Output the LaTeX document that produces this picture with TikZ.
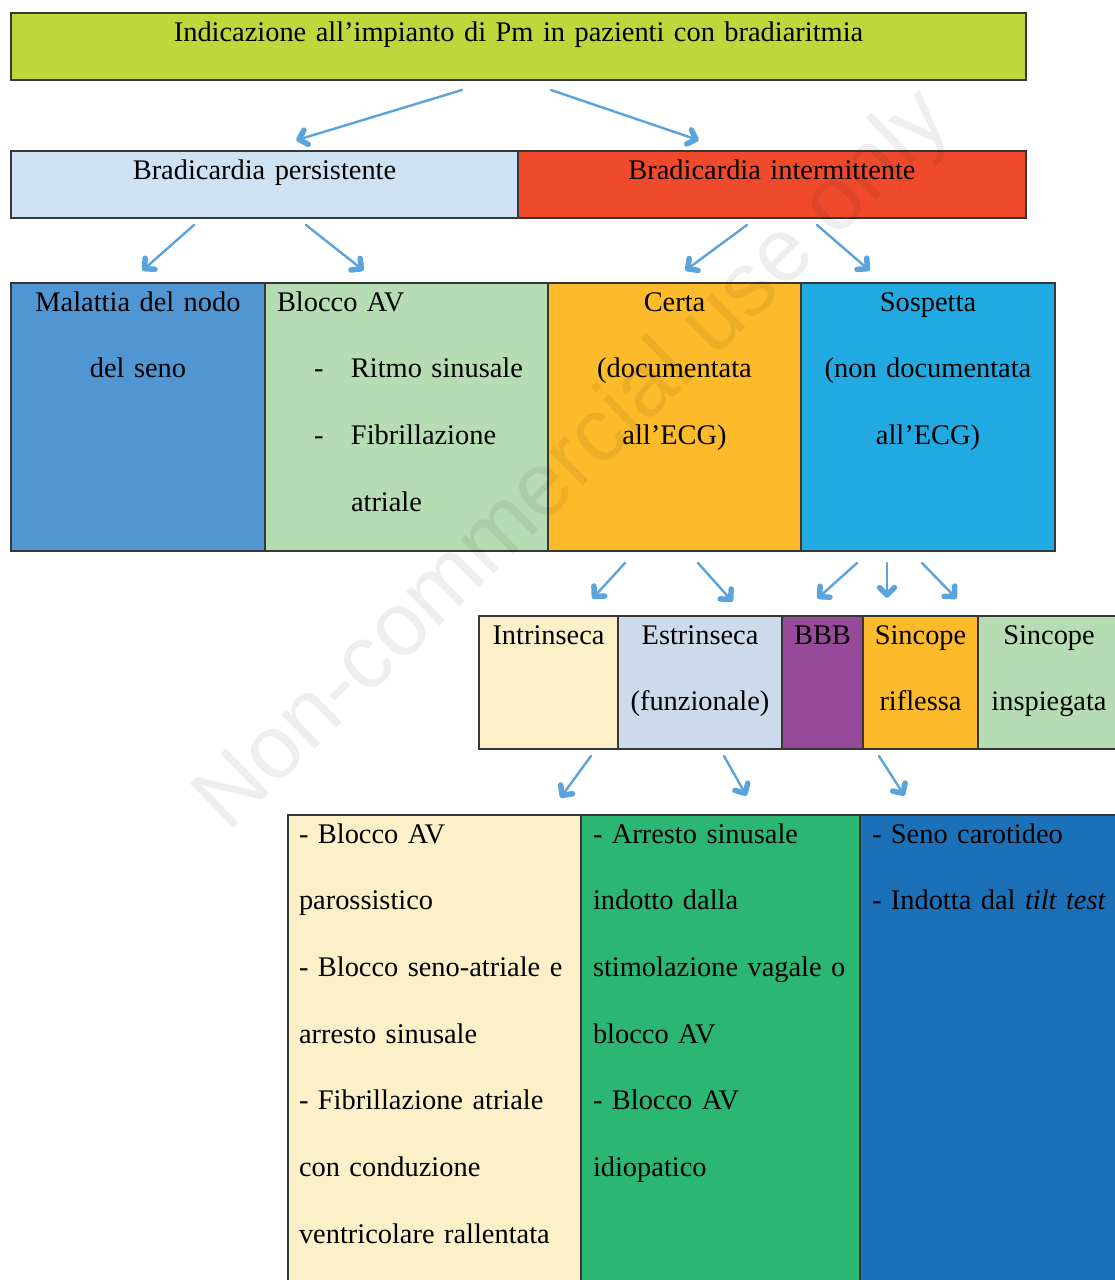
\documentclass[tikz,border=0pt]{standalone}
\usepackage{fontspec}
\setmainfont{Liberation Serif}
\newfontfamily\wmfont{Liberation Sans}
\usetikzlibrary{calc}
\definecolor{clime}{RGB}{190,215,58}
\definecolor{clightblue}{RGB}{207,226,243}
\definecolor{cred}{RGB}{239,74,43}
\definecolor{cblue}{RGB}{80,150,210}
\definecolor{cpalegreen}{RGB}{182,220,180}
\definecolor{corange}{RGB}{253,186,42}
\definecolor{ccyan}{RGB}{33,169,225}
\definecolor{ccream}{RGB}{252,240,200}
\definecolor{cpaleblue}{RGB}{204,218,236}
\definecolor{cpurple}{RGB}{152,74,154}
\definecolor{cgreen}{RGB}{43,182,115}
\definecolor{cdarkblue}{RGB}{28,112,184}
\definecolor{carrow}{RGB}{91,163,220}
\definecolor{cline}{RGB}{55,55,55}
\begin{document}
\begin{tikzpicture}[x=1pt,y=-1pt,
  box/.style={draw=cline, line width=1.2pt, inner sep=0pt, outer sep=0pt, anchor=north west},
  txt/.style={inner sep=0pt, outer sep=0pt, font=\fontsize{28.4}{66.7}\selectfont, text=black},
  ctxt/.style={txt, anchor=base, align=center},
  ltxt/.style={txt, anchor=base west, align=left},
  conn/.style={draw=carrow, line width=2.4pt, line cap=round},
  barb/.style={draw=carrow, line width=5.5pt, line cap=round, line join=round},
  wm/.style={font=\wmfont\fontsize{90}{90}\selectfont, text=black, text opacity=0.065, inner sep=0pt}
]
\useasboundingbox (0,0) rectangle (1115,1280);
\clip (0,0) rectangle (1115,1280);
\fill[white] (0,0) rectangle (1115,1280);

% ---- Row 1
\node[box, fill=clime, minimum width=1015, minimum height=67] (top) at (11,13) {};
\node[ctxt, text width=1000] (topt) at (518.5,41) {Indicazione all’impianto di Pm in pazienti con bradiaritmia};

% ---- Row 2
\node[box, fill=clightblue, minimum width=507, minimum height=67] (pers) at (11,151) {};
\node[box, fill=cred, minimum width=508, minimum height=67] (inter) at (518,151) {};
\node[ctxt, text width=490] (perst) at (264.5,179) {Bradicardia persistente};
\node[ctxt, text width=490] (intert) at (772,179) {Bradicardia intermittente};

% ---- Row 3
\node[box, fill=cblue, minimum width=254, minimum height=268] (mal) at (11,283) {};
\node[box, fill=cpalegreen, minimum width=283, minimum height=268] (bav) at (265,283) {};
\node[box, fill=corange, minimum width=253, minimum height=268] (certa) at (548,283) {};
\node[box, fill=ccyan, minimum width=254, minimum height=268] (sosp) at (801,283) {};
\node[ctxt, text width=250] (malt) at (138,311) {Malattia del nodo\\del seno};
\node[ltxt, text width=270] (bavt) at (277,311) {Blocco AV\\\hspace*{37pt}\makebox[37pt][l]{-}Ritmo sinusale\\\hspace*{37pt}\makebox[37pt][l]{-}Fibrillazione\\\hspace*{74pt}atriale};
\node[ctxt, text width=250] (certat) at (674.5,311) {Certa\\(documentata\\all’ECG)};
\node[ctxt, text width=250] (sospt) at (928,311) {Sospetta\\(non documentata\\all’ECG)};

% ---- Row 4
\node[box, fill=ccream, minimum width=139, minimum height=133] (intr) at (479,616) {};
\node[box, fill=cpaleblue, minimum width=164, minimum height=133] (estr) at (618,616) {};
\node[box, fill=cpurple, minimum width=81, minimum height=133] (bbb) at (782,616) {};
\node[box, fill=corange, minimum width=115, minimum height=133] (sinr) at (863,616) {};
\node[box, fill=cpalegreen, minimum width=150, minimum height=133] (sini) at (978,616) {};
\node[ctxt, text width=139] (intrt) at (548.5,644) {Intrinseca};
\node[ctxt, text width=164] (estrt) at (700,644) {Estrinseca\\(funzionale)};
\node[ctxt, text width=81] (bbbt) at (822.5,644) {BBB};
\node[ctxt, text width=115] (sinrt) at (920.5,644) {Sincope\\riflessa};
\node[ctxt, text width=140] (sinit) at (1049,644) {Sincope\\inspiegata};

% ---- Row 5
\node[box, fill=ccream, minimum width=293, minimum height=480] (lista) at (288,815) {};
\node[box, fill=cgreen, minimum width=279, minimum height=480] (listb) at (581,815) {};
\node[box, fill=cdarkblue, minimum width=270, minimum height=480] (listc) at (860,815) {};
\node[ltxt, text width=285] (listat) at (299,843) {- Blocco AV\\parossistico\\- Blocco seno-atriale e\\arresto sinusale\\- Fibrillazione atriale\\con conduzione\\ventricolare rallentata};
\node[ltxt, text width=275] (listbt) at (593,843) {- Arresto sinusale\\indotto dalla\\stimolazione vagale o\\blocco AV\\- Blocco AV\\idiopatico};
\node[ltxt, text width=260] (listct) at (872,843) {- Seno carotideo\\- Indotta dal \textit{tilt test}};

% ---- Connectors
\coordinate (a1s) at (462,90);  \coordinate (a1e) at (297,140);
\coordinate (a2s) at (551,90);  \coordinate (a2e) at (698,140);
\coordinate (b1s) at (194,225); \coordinate (b1e) at (143,270);
\coordinate (b2s) at (306,225); \coordinate (b2e) at (363,270);
\coordinate (b3s) at (747,225); \coordinate (b3e) at (686,270);
\coordinate (b4s) at (817,225); \coordinate (b4e) at (869,270);
\coordinate (c1s) at (625,563); \coordinate (c1e) at (593,598);
\coordinate (c2s) at (698,563); \coordinate (c2e) at (732,601);
\coordinate (c3s) at (857,563); \coordinate (c3e) at (818,598);
\coordinate (c4s) at (887,563); \coordinate (c4e) at (887,597);
\coordinate (c5s) at (922,563); \coordinate (c5e) at (956,598);
\coordinate (d1s) at (591,756); \coordinate (d1e) at (561,797);
\coordinate (d2s) at (724,756); \coordinate (d2e) at (746,795);
\coordinate (d3s) at (879,756); \coordinate (d3e) at (904,795);
\foreach \k in {a1,a2,b1,b2,b3,b4,c1,c2,c3,c4,c5,d1,d2,d3}{
  \draw[conn] (\k s) -- ($(\k e)!2pt!(\k s)$);
  \draw[barb] ($(\k e)!12pt!38:(\k s)$) -- ($(\k e)!2pt!(\k s)$) -- ($(\k e)!12pt!-38:(\k s)$);
}

% ---- Watermark
\node[wm, rotate=44.4] (wmark) at (575,462) {Non-commercial use only};
\end{tikzpicture}
\end{document}
